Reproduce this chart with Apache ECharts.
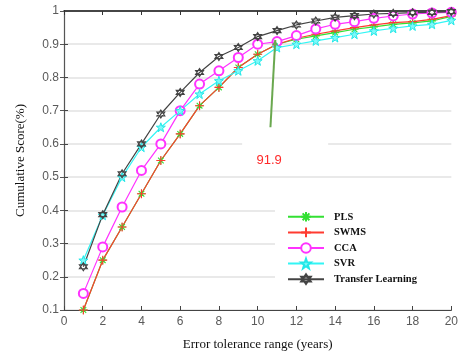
<!DOCTYPE html>
<html>
<head>
<meta charset="utf-8">
<script src="https://cdn.jsdelivr.net/npm/echarts@6/dist/echarts.min.js"></script>
<style>html,body{margin:0;padding:0;background:#fff;}#c{width:461px;height:356px;}</style>
</head>
<body>
<div id="c"></div>
<script>
const xValues = [1,2,3,4,5,6,7,8,9,10,11,12,13,14,15,16,17,18,19,20];
const pls  = [0.10,0.25,0.35,0.45,0.55,0.63,0.715,0.77,0.83,0.87,0.90,0.915,0.925,0.935,0.945,0.952,0.96,0.964,0.97,0.984];
const swms = [0.10,0.25,0.35,0.45,0.55,0.63,0.715,0.77,0.83,0.87,0.90,0.918,0.93,0.94,0.95,0.958,0.965,0.968,0.975,0.986];
const cca  = [0.15,0.29,0.41,0.52,0.60,0.70,0.78,0.82,0.86,0.90,0.908,0.926,0.946,0.96,0.968,0.978,0.985,0.991,0.994,0.996];
const svr  = [0.25,0.385,0.50,0.59,0.65,0.70,0.75,0.79,0.82,0.85,0.89,0.90,0.91,0.92,0.93,0.94,0.948,0.955,0.96,0.972];
const tl   = [0.23,0.387,0.51,0.60,0.69,0.755,0.815,0.863,0.89,0.923,0.941,0.958,0.97,0.981,0.986,0.991,0.993,0.995,0.996,0.998];
const seriesNames = ['PLS','SWMS','CCA','SVR','Transfer Learning'];
const annotationText = '91.9';
const annotationLine = [[10.66, 0.65], [10.91, 0.913]];
const annotationBox = [11.42, 0.566];

const P = {
  asterisk: 'path://M0,-10L0,10M-10,0L10,0M-7.07,-7.07L7.07,7.07M-7.07,7.07L7.07,-7.07',
  plus: 'path://M0,-10L0,10M-10,0L10,0',
  star: 'path://M0,-10L2.35,-3.24L9.51,-3.09L3.8,1.24L5.88,8.09L0,4L-5.88,8.09L-3.8,1.24L-9.51,-3.09L-2.35,-3.24Z',
  hexagram: 'path://M0,-10L8.66,5L-8.66,5ZM0,10L8.66,-5L-8.66,-5Z'
};
function pairs(arr){ return xValues.map((x,i)=>[x,arr[i]]); }

const chart = echarts.init(document.getElementById('c'), null, {renderer:'canvas'});
const tickFont = {color:'#5a5a5a', fontSize:12, fontFamily:'Liberation Sans, Arial, sans-serif'};
const serif = 'Liberation Serif, Times New Roman, serif';

function mk(name, data, color, symbol, size, opts){
  return Object.assign({
    name, type:'line', data: pairs(data), symbol, symbolSize: size,
    lineStyle:{color, width:1.2},
    itemStyle:{color:'transparent', borderColor:color, borderWidth:1.1},
    emphasis:{disabled:true}, animation:false, z:3
  }, opts||{});
}

const option = {
  backgroundColor:'#fff',
  animation:false,
  grid:{left:64, right:3, top:11, bottom:44, containLabel:false},
  legend:{
    orient:'vertical', left:275, top:204,
    padding:[7,35,7,12], itemGap:4, itemWidth:36, itemHeight:12,
    backgroundColor:'#fff',
    textStyle:{fontFamily:serif, fontWeight:'bold', fontSize:10.5, color:'#111', padding:[0,0,0,5]},
    data: seriesNames
  },
  xAxis:[{
    type:'value', min:0, max:20, interval:2, position:'bottom',
    name:'Error tolerance range (years)', nameLocation:'middle', nameGap:28,
    nameTextStyle:{fontFamily:serif, fontSize:13, color:'#111'},
    axisLine:{show:true, lineStyle:{color:'#444', width:1.2}},
    axisTick:{show:true, inside:true, length:4, lineStyle:{color:'#444'}},
    axisLabel:Object.assign({margin:6}, tickFont),
    splitLine:{show:false}
  },{
    type:'value', min:0, max:20, interval:2, position:'top',
    axisLine:{show:true, lineStyle:{color:'#111', width:1.5}},
    axisTick:{show:true, inside:true, length:4, lineStyle:{color:'#333'}},
    axisLabel:{show:false}, splitLine:{show:false}
  }],
  yAxis:[{
    type:'value', min:0.1, max:1, interval:0.1,
    name:'Cumulative Score(%)', nameLocation:'middle', nameGap:37,
    nameTextStyle:{fontFamily:serif, fontSize:13, color:'#111'},
    axisLine:{show:true, lineStyle:{color:'#444', width:1.2}},
    axisTick:{show:true, inside:true, length:4, lineStyle:{color:'#444'}},
    axisLabel:Object.assign({margin:5, formatter:v=>String(Math.round(v*10)/10)}, tickFont),
    splitLine:{show:true, lineStyle:{color:'#e2e2e2', width:1.6}}
  },{
    type:'value', min:0.1, max:1, interval:0.1, position:'right',
    axisLine:{show:true, lineStyle:{color:'#555', width:1}},
    axisTick:{show:true, inside:true, length:4, lineStyle:{color:'#555'}},
    axisLabel:{show:false}, splitLine:{show:false}
  }],
  series:[
    mk('PLS', pls, '#33e033', P.asterisk, 8),
    mk('SWMS', swms, '#ff3b30', P.plus, 9),
    mk('CCA', cca, '#ff33ff', 'emptyCircle', 9, {itemStyle:{color:'#ff33ff', borderColor:'#ff33ff', borderWidth:1.2}}),
    mk('SVR', svr, '#33f5f5', P.star, 9, {itemStyle:{color:'#7ff9f9', borderColor:'#22e8e8', borderWidth:1}}),
    mk('Transfer Learning', tl, '#444444', P.hexagram, 8, {
      markLine:{
        silent:true, symbol:['none','arrow'], symbolSize:[5,6],
        lineStyle:{color:'#6aa84f', width:2, type:'solid'},
        label:{show:false},
        data:[[{coord:annotationLine[0]},{coord:annotationLine[1]}]]
      },
      markPoint:{
        silent:true,
        symbol:'rect', symbolSize:[86,28],
        itemStyle:{color:'#fff', borderWidth:0},
        label:{show:true, formatter:annotationText, color:'#ff2a2a', fontSize:13, fontFamily:'Liberation Sans, Arial, sans-serif', offset:[-16,5]},
        data:[{coord:annotationBox}]
      }
    })
  ]
};
chart.setOption(option);
</script>
</body>
</html>
